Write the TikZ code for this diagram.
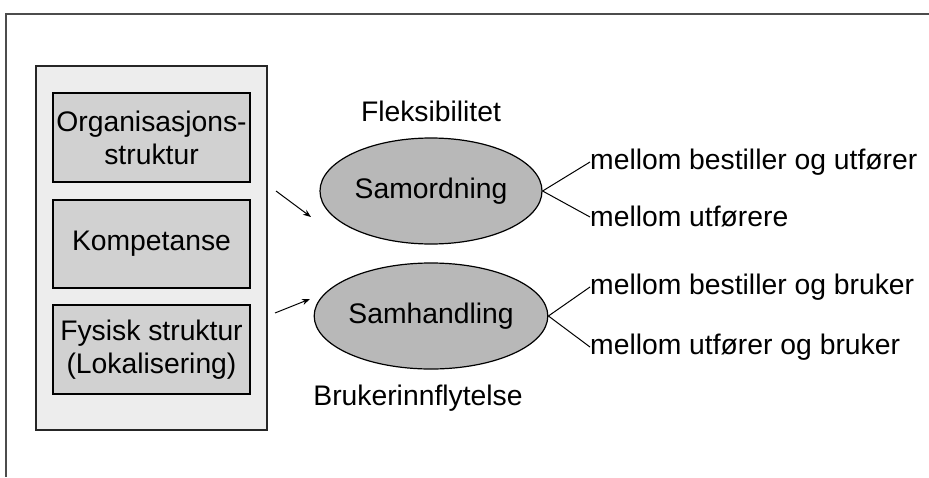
\documentclass[tikz,border=0pt]{standalone}
\usepackage{fontspec}
\setmainfont{Liberation Sans}
\usetikzlibrary{arrows.meta,shapes.geometric}
\begin{document}
\begin{tikzpicture}[x=1pt,y=-1pt,
  every node/.style={font=\fontsize{28.3}{34}\selectfont, inner sep=0pt},
  panel/.style={draw=black!85, line width=1.2pt, fill=black!7},
  factor/.style={draw=black, line width=1.3pt, fill=black!18, align=center},
  hub/.style={ellipse, draw=black, line width=1.2pt, fill=black!28,
    minimum width=222pt, minimum height=106pt},
  feed/.style={line width=1pt, -{Stealth[length=8pt,width=6pt]}},
  branch/.style={line width=1pt},
  lbl/.style={anchor=west}]
\useasboundingbox (0,0) rectangle (929,477);
% page frame
\draw[line width=1.2pt, black!70] (929,14) -- (6,14) -- (6,477);
% framework panel with its three factors
\node[panel, minimum width=231pt, minimum height=364pt] (panel) at (151.5,248) {};
\node[factor, minimum width=197pt, minimum height=89pt] (org) at (151.5,137.5)
  {Organisasjons-\\[-1pt]struktur};
\node[factor, minimum width=197pt, minimum height=88pt] (komp) at (151.5,244) {Kompetanse};
\node[factor, minimum width=197pt, minimum height=89pt] (fys) at (151.5,349.5)
  {Fysisk struktur\\[-1pt](Lokalisering)};
% the two hubs
\node[hub] (samo) at (431,191) {Samordning};
\node[hub] (samh) at (431,316) {Samhandling};
\node (flex) at (431,111) {Fleksibilitet};
\node (bruk) at (418,398) {Brukerinnflytelse};
% incoming arrows
\coordinate (a1) at (276,191);
\coordinate (a2) at (275,313);
\draw[feed] (a1) -- (311,217) coordinate (t1);
\draw[feed] (a2) -- (310,299) coordinate (t2);
% branch labels
\node[lbl] (l1) at (590,162) {mellom bestiller og utfører};
\node[lbl] (l2) at (590,217) {mellom utførere};
\node[lbl] (l3) at (590,287) {mellom bestiller og bruker};
\node[lbl] (l4) at (590,347) {mellom utfører og bruker};
\draw[branch] (samo.east) -- (l1.west);
\draw[branch] (samo.east) -- (l2.west);
\draw[branch] (samh.east) -- (l3.west);
\draw[branch] (samh.east) -- (l4.west);
\end{tikzpicture}
\end{document}
